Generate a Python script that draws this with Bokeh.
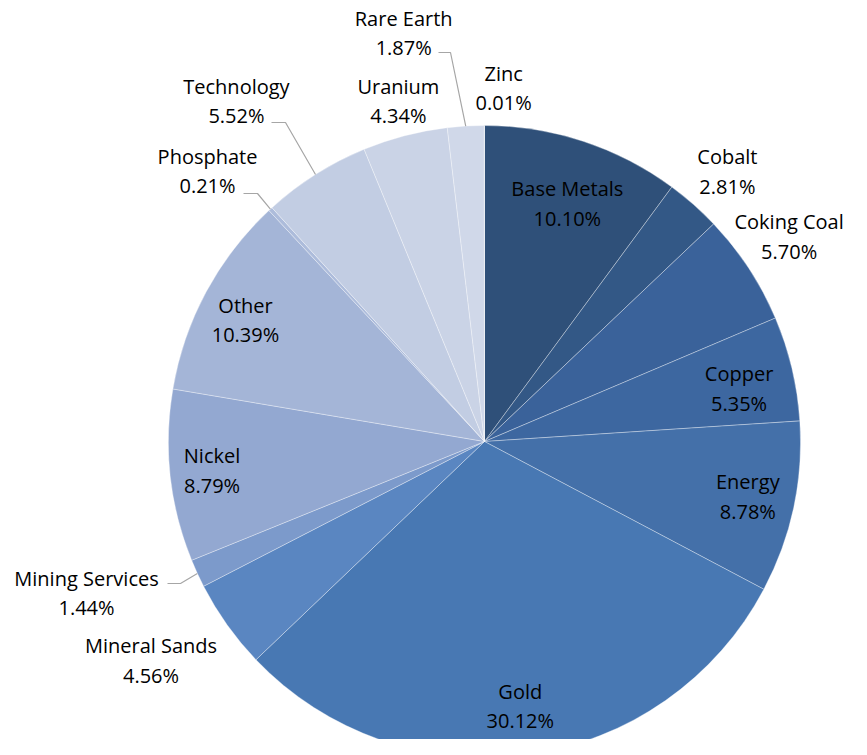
import math
from bokeh.plotting import figure
from bokeh.models import Range1d, ColumnDataSource
from bokeh.core.properties import value
from bokeh.embed import file_html
from bokeh.resources import INLINE

# ---- data ----
sectors = ["Base Metals", "Cobalt", "Coking Coal", "Copper", "Energy", "Gold",
           "Mineral Sands", "Mining Services", "Nickel", "Other", "Phosphate",
           "Technology", "Uranium", "Rare Earth", "Zinc"]
shares = [10.10, 2.81, 5.70, 5.35, 8.78, 30.12, 4.56, 1.44, 8.79, 10.39, 0.21,
          5.52, 4.34, 1.87, 0.01]
colors = ["#2F5079", "#335886", "#3A629A", "#3D67A0", "#4470A9", "#4878B3",
          "#5A86C1", "#7C9ACB", "#93A8D1", "#A4B5D7", "#ADBCDB", "#C2CDE3",
          "#CAD3E6", "#D0D8E9", "#D6DDEB"]

# ---- layout (label placement, polar: radius px, angle deg clockwise from top) ----
W, H = 851, 739
CX, CY, R = 484, H - 441, 316
label_r = [252, 363, 367, 260, 269, 267, 399, 426, 274, 268, 387, 421, 351, 416, 354]
label_a = [19.2, 42.0, 56.1, 78.3, 101.8, 172.3, 236.7, 249.1, 263.9, 296.9, 314.3,
           323.9, 345.8, 348.8, 3.1]
# leader lines: slice index -> (start pt, elbow pt), screen coords from top-left
leaders = {13: ((438, 52), (450, 52)),
           11: ((271, 122), (285, 122)),
           10: ((243, 193), (257, 193)),
           7: ((167, 583), (180, 583))}

total = sum(shares)
starts, ends, mids = [], [], []
cum = 0.0
for s in shares:
    a0 = cum / total * 2 * math.pi
    cum += s
    a1 = cum / total * 2 * math.pi
    starts.append(math.pi / 2 - a0)
    ends.append(math.pi / 2 - a1)
    mids.append((a0 + a1) / 2)

p = figure(width=W, height=H, x_range=Range1d(0, W), y_range=Range1d(0, H),
           output_backend="svg", toolbar_location=None, min_border=0)
p.axis.visible = False
p.grid.visible = False
p.outline_line_color = None
p.background_fill_color = "white"

src = ColumnDataSource(dict(start=starts, end=ends, color=colors, name=sectors))
p.wedge(x=CX, y=CY, radius=R, start_angle="start", end_angle="end",
        direction="clock", fill_color="color", line_color="white",
        line_alpha=0.45, line_width=0.75, source=src)

# leader lines
for i, (pt0, pt1) in leaders.items():
    ex = CX + R * math.sin(mids[i])
    ey = CY + R * math.cos(mids[i])
    xs = [pt0[0], pt1[0], ex]
    ys = [H - pt0[1], H - pt1[1], ey]
    p.line(xs, ys, line_color="#A6A6A6", line_width=1.2)

lx, ly = [], []
for r, a in zip(label_r, label_a):
    ar = math.radians(a)
    lx.append(CX + r * math.sin(ar))
    ly.append(CY + r * math.cos(ar))

name_src = ColumnDataSource(dict(x=lx, y=[y + 15 for y in ly], t=sectors))
pct_src = ColumnDataSource(dict(x=lx, y=[y - 14.5 for y in ly],
                                t=["%.2f%%" % s for s in shares]))
for s in (name_src, pct_src):
    p.text(x="x", y="y", text="t", source=s, text_align="center",
           text_baseline="middle", text_font=value("Open Sans"),
           text_font_size="20px", text_color="#000000")

open("out.html", "w").write(file_html(p, INLINE))
